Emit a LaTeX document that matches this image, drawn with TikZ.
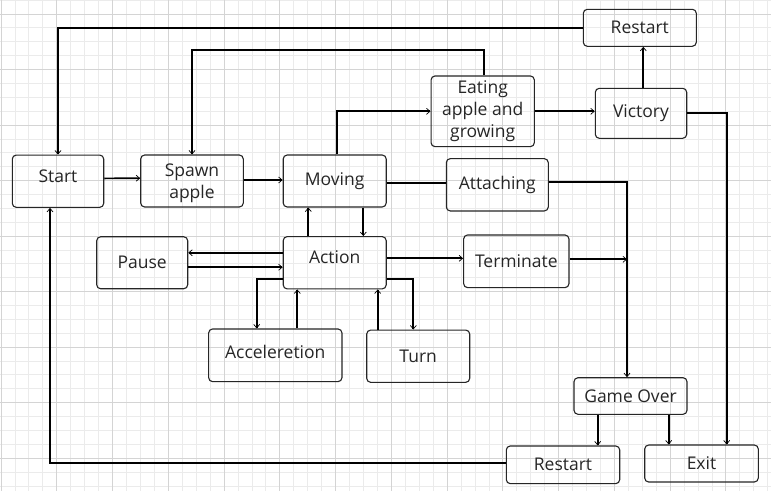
\documentclass[tikz,border=0pt]{standalone}
\usepackage{fontspec}
\setmainfont{Open Sans}
\usetikzlibrary{arrows.meta}

\newcommand{\lift}[2]{\raisebox{#1}[\height][\depth]{#2}}

\tikzset{
  box/.style={draw=black!85, line width=1.1pt, rounded corners=4pt, align=center, inner sep=0pt, text=black!85, font=\fontsize{17.5}{22}\selectfont},
  conn/.style={line width=1.7pt, -{Straight Barb[length=3.5pt,width=6pt,line width=0.7pt]}},
  link/.style={line width=1.7pt},
  minor/.style={draw=black!8, line width=0.8pt},
  major/.style={draw=black!17, line width=0.9pt},
}

\begin{document}
\begin{tikzpicture}[x=1pt, y=-1pt]

    % page and grid
    \useasboundingbox (0,0) rectangle (771,491);
    \fill [white] (0,0) rectangle (771,491);
    \foreach \i in {0,...,55} \draw [minor] (1+13.94*\i,0) -- (1+13.94*\i,491);
    \foreach \j in {0,...,35} \draw [minor] (0,0.1+13.88*\j) -- (771,0.1+13.88*\j);
    \foreach \i in {0,...,13} \draw [major] (1+55.76*\i,0) -- (1+55.76*\i,491);
    \foreach \j in {0,...,8} \draw [major] (0,14+55.52*\j) -- (771,14+55.52*\j);

    % states
    \node [box, minimum width=91.4pt, minimum height=52.3pt] (start) at (58,181.2) {\lift{5pt}{Start}};
    \node [box, minimum width=102.6pt, minimum height=52pt] (spawn) at (192,181) {\lift{-2pt}{Spawn}\\\lift{-2pt}{apple}};
    \node [box, minimum width=103pt, minimum height=52pt] (moving) at (334.7,181) {Moving};
    \node [box, minimum width=103.3pt, minimum height=70.7pt] (eating) at (482.7,111.3) {Eating\\apple and\\growing};
    \node [box, minimum width=91.4pt, minimum height=50pt] (victory) at (641,113.3) {Victory};
    \node [box, minimum width=113pt, minimum height=37pt] (restartT) at (639.8,27.8) {Restart};
    \node [box, minimum width=102pt, minimum height=52.3pt] (attaching) at (497.3,184.8) {Attaching};

    \node [box, minimum width=91pt, minimum height=52pt] (pause) at (142.2,262.75) {Pause};
    \node [box, minimum width=103pt, minimum height=52.3pt] (action) at (334.7,262.75) {\lift{6pt}{Action}};
    \node [box, minimum width=105.3pt, minimum height=52.7pt] (terminate) at (516.3,261.3) {Terminate};
    \node [box, minimum width=133.3pt, minimum height=52.7pt] (accel) at (275.3,355.3) {\lift{3pt}{Acceleretion}};
    \node [box, minimum width=103pt, minimum height=52.3pt] (turn) at (418.2,356.2) {Turn};

    \node [box, minimum width=113pt, minimum height=36.6pt] (gameover) at (630.5,396) {Game Over};
    \node [box, minimum width=113.4pt, minimum height=37.7pt] (restartB) at (563,464.8) {Restart};
    \node [box, minimum width=113.6pt, minimum height=37pt] (exit) at (701.5,463.5) {Exit};

    \coordinate (merge) at (627,259.3);

    % main line
    \draw [conn] ([yshift=2.8pt]start.east) -- ([yshift=2.8pt]spawn.west);
    \draw [conn] ([yshift=1pt]spawn.east) -- ([yshift=1pt]moving.west);
    \draw [conn] ([xshift=2pt]moving.north) |- (eating.west);
    \draw [conn] ([xshift=1.6pt]eating.north) -- ++(0,-25.3) -| (spawn.north);
    \draw [conn] (eating.east) -- ([yshift=2pt]victory.west);
    \draw [conn] ([xshift=2.3pt]victory.north) -- ([xshift=3.5pt]restartT.south);
    \draw [conn] (restartT.west) -| (start.north);
    \draw [conn] (victory.east) -| ([xshift=25.2pt]exit.north);

    % moving and actions
    \draw [conn] ([xshift=28.6pt]moving.south) -- ([xshift=28.6pt]action.north);
    \draw [conn] ([xshift=-26.4pt]action.north) -- ([xshift=-26.4pt]moving.south);
    \draw [conn] ([yshift=10pt]action.west) -- ([yshift=10pt]pause.east);
    \draw [conn] ([yshift=-4.5pt]pause.east) -- ([yshift=-4.5pt]action.west);
    \draw [conn] ([yshift=-16.2pt]action.west) -| ([xshift=-18.6pt]accel.north);
    \draw [conn] ([xshift=22pt]accel.north) -- ([xshift=-37.4pt]action.south);
    \draw [conn] ([xshift=-40.5pt]turn.north) -- ([xshift=43pt]action.south);
    \draw [conn] ([yshift=-16.5pt]action.east) -| ([xshift=-4.9pt]turn.north);
    \draw [conn] ([yshift=4.45pt]action.east) -- ([yshift=3pt]terminate.west);

    % game over
    \draw [link] ([yshift=-1.7pt]moving.east) -- ([yshift=2.1pt]attaching.west);
    \draw [conn] ([yshift=2.8pt]attaching.east) -| ([xshift=-3.5pt]gameover.north);
    \draw [conn] ([yshift=2pt]terminate.east) -- (merge);
    \draw [conn] ([xshift=-32.8pt]gameover.south) -- ([xshift=34.7pt]restartB.north);
    \draw [conn] ([xshift=38.2pt]gameover.south) -- ([xshift=-32.8pt]exit.north);
    \draw [conn] ([yshift=1.5pt]restartB.west) -| ([xshift=-8pt]start.south);

\end{tikzpicture}
\end{document}
